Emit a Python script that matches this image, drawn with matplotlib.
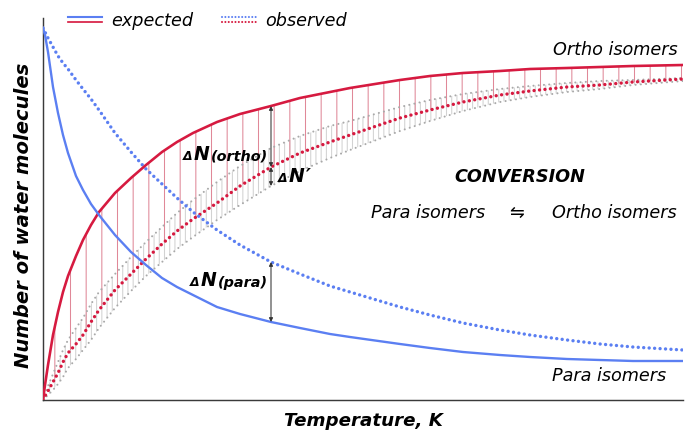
import matplotlib.pyplot as plt
from matplotlib.lines import Line2D
from matplotlib.legend_handler import HandlerBase
from matplotlib.offsetbox import TextArea, HPacker, AnnotationBbox

plt.rcParams['font.family'] = ['DejaVu Sans']
plt.rcParams['hatch.linewidth'] = 0.8

# values (arbitrary units, no ticks in the original)
temperature = [0, 2, 5, 10, 15, 20, 25, 33, 40, 48, 56, 72, 88, 103, 119, 134,
               150, 174, 197, 228, 257, 287, 307, 357, 387, 420, 457, 487, 524, 557, 590, 640]
ortho_expected = [0, 15, 35, 65, 88, 108, 124, 144, 160, 175, 188, 207, 222, 235, 248, 258,
                  267, 278, 286, 294, 302, 308, 312, 320, 324, 327, 329, 331, 332, 333, 334, 335]
ortho_observed = [0, 4, 9, 18, 27, 38, 47, 56, 65, 78, 90, 110, 126, 141, 156, 169,
                  181, 197, 214, 233, 247, 258, 265, 282, 290, 298, 305, 309, 313, 315, 318, 321]
ortho_band_high = [0, 6, 14, 26, 38, 50, 60, 72, 82, 96, 108, 126, 143, 158, 173, 187,
                   200, 218, 234, 252, 264, 274, 279, 293, 300, 306, 311, 314, 317, 319, 320, 322]
ortho_band_low = [0, 2, 5, 10, 16, 23, 32, 41, 50, 60, 72, 92, 109, 124, 138, 151,
                  163, 180, 195, 214, 229, 242, 250, 269, 279, 289, 298, 303, 308, 311, 315, 319]
para_expected = [372, 365, 348, 313, 287, 265, 247, 224, 210, 196, 185, 165, 148, 135, 122, 113,
                 105, 93, 86, 78, 72, 66, 63, 56, 52, 48, 45, 43, 41, 40, 39, 39]
para_observed = [372, 368, 362, 353, 344, 337, 331, 320, 311, 301, 290, 267, 248, 231, 216, 202,
                 188, 170, 155, 138, 126, 114, 108, 93, 85, 77, 70, 65, 60, 56, 53, 50]
arrow_idx = 19  # sample where the delta arrows are drawn

RED = '#d61a40'
BLUE = '#5b7ff2'
GRAY = '#a9a9a9'
BOLD_IT = dict(weight='bold', style='italic', color='black')

DPI = 94
fig = plt.figure(figsize=(685 / DPI, 430 / DPI), dpi=DPI)
ax = fig.add_axes([43 / 685, 30 / 430, 640 / 685, 382 / 430])

# hatched gaps
ax.fill_between(temperature, ortho_band_low, ortho_band_high, facecolor='none',
                edgecolor='#d2d2d2', linewidth=0, hatch='|||', zorder=1)
ax.fill_between(temperature, ortho_observed, ortho_expected, facecolor='none',
                edgecolor='#e08898', linewidth=0, hatch='|', zorder=1.5)

# curves
gray_dots = (0, (0.01, 2.5))
red_dots = (0, (0.01, 1.6))
ax.plot(temperature, ortho_band_high, color=GRAY, lw=1.6, ls=gray_dots, dash_capstyle='round', zorder=2)
ax.plot(temperature, ortho_band_low, color=GRAY, lw=1.6, ls=gray_dots, dash_capstyle='round', zorder=2)
ax.plot(temperature, ortho_observed, color=RED, lw=2.6, ls=red_dots, dash_capstyle='round', zorder=3)
ax.plot(temperature, para_observed, color=BLUE, lw=2.6, ls=red_dots, dash_capstyle='round', zorder=3)
ax.plot(temperature, ortho_expected, color=RED, lw=2.0, zorder=3)
ax.plot(temperature, para_expected, color=BLUE, lw=1.8, zorder=3)

# delta arrows
x_arrow = temperature[arrow_idx]
arrow_kw = dict(arrowstyle='<|-|>', color='#333333', lw=0.8, mutation_scale=6, shrinkA=0, shrinkB=0)
for top, bottom in [(ortho_expected, ortho_observed), (ortho_observed, ortho_band_low),
                    (para_observed, para_expected)]:
    ax.annotate('', xy=(x_arrow, top[arrow_idx]), xytext=(x_arrow, bottom[arrow_idx]),
                arrowprops=arrow_kw, zorder=4)


def delta_label(x, y, suffix, suffix_size, align):
    parts = [TextArea('Δ', textprops=dict(size=9.5, **BOLD_IT)),
             TextArea('N', textprops=dict(size=14.5, **BOLD_IT)),
             TextArea(suffix, textprops=dict(size=suffix_size, **BOLD_IT))]
    box = HPacker(children=parts, align='baseline', pad=0, sep=1)
    ab = AnnotationBbox(box, (x, y), xycoords='data', box_alignment=align,
                        frameon=False, pad=0, zorder=5)
    ax.add_artist(ab)


delta_label(225, 245, '(ortho)', 11, (1, 0.5))
delta_label(235, 224, '′', 14.5, (0, 0.5))
delta_label(225, 119, '(para)', 11, (1, 0.5))

# annotations
ax.text(635, 350, 'Ortho isomers', ha='right', va='center', size=13.5, style='italic')
ax.text(623, 24, 'Para isomers', ha='right', va='center', size=13.5, style='italic')
ax.text(477, 223, 'CONVERSION', ha='center', va='center', size=13.5, **BOLD_IT)
ax.text(442, 187, 'Para isomers', ha='right', va='center', size=13.5, style='italic')
ax.text(474, 187, '⇋', ha='center', va='center', size=13.5)
ax.text(509, 187, 'Ortho isomers', ha='left', va='center', size=13.5, style='italic')

ax.set_xlim(0, 640)
ax.set_ylim(0, 382)
ax.set_xticks([])
ax.set_yticks([])
for side in ['top', 'right']:
    ax.spines[side].set_visible(False)
for side in ['left', 'bottom']:
    ax.spines[side].set_color('#3a3a3a')
    ax.spines[side].set_linewidth(1.1)
ax.set_xlabel('Temperature, K', size=14, labelpad=9, **BOLD_IT)
ax.set_ylabel('Number of water molecules', size=15, **BOLD_IT)
ax.yaxis.set_label_coords(-0.016, 0.484)


# legend: blue line over red line for each style
class PairHandler(HandlerBase):
    def create_artists(self, legend, orig_handle, xdescent, ydescent, width, height, fontsize, trans):
        out = []
        for line, frac in zip(orig_handle, (0.75, 0.3)):
            y = height * frac - ydescent
            ln = Line2D([-xdescent, width - xdescent], [y, y])
            ln.update_from(line)
            ln.set_transform(trans)
            out.append(ln)
        return out


solid_pair = (Line2D([], [], color=BLUE, lw=1.6), Line2D([], [], color=RED, lw=1.3))
dot_pair = (Line2D([], [], color=BLUE, lw=1.6, ls=(0, (0.01, 1.6)), dash_capstyle='round'),
            Line2D([], [], color=RED, lw=1.6, ls=(0, (0.01, 1.6)), dash_capstyle='round'))
ax.legend([solid_pair, dot_pair], ['expected', 'observed'], handler_map={tuple: PairHandler()},
          ncol=2, frameon=False, loc='upper left', bbox_to_anchor=(68 / 685, 1 - 12 / 430),
          bbox_transform=fig.transFigure, borderpad=0, borderaxespad=0, handlelength=1.95,
          handletextpad=0.5, columnspacing=1.6, prop=dict(style='italic', size=13.5))

fig.savefig('out.png', dpi=DPI)
